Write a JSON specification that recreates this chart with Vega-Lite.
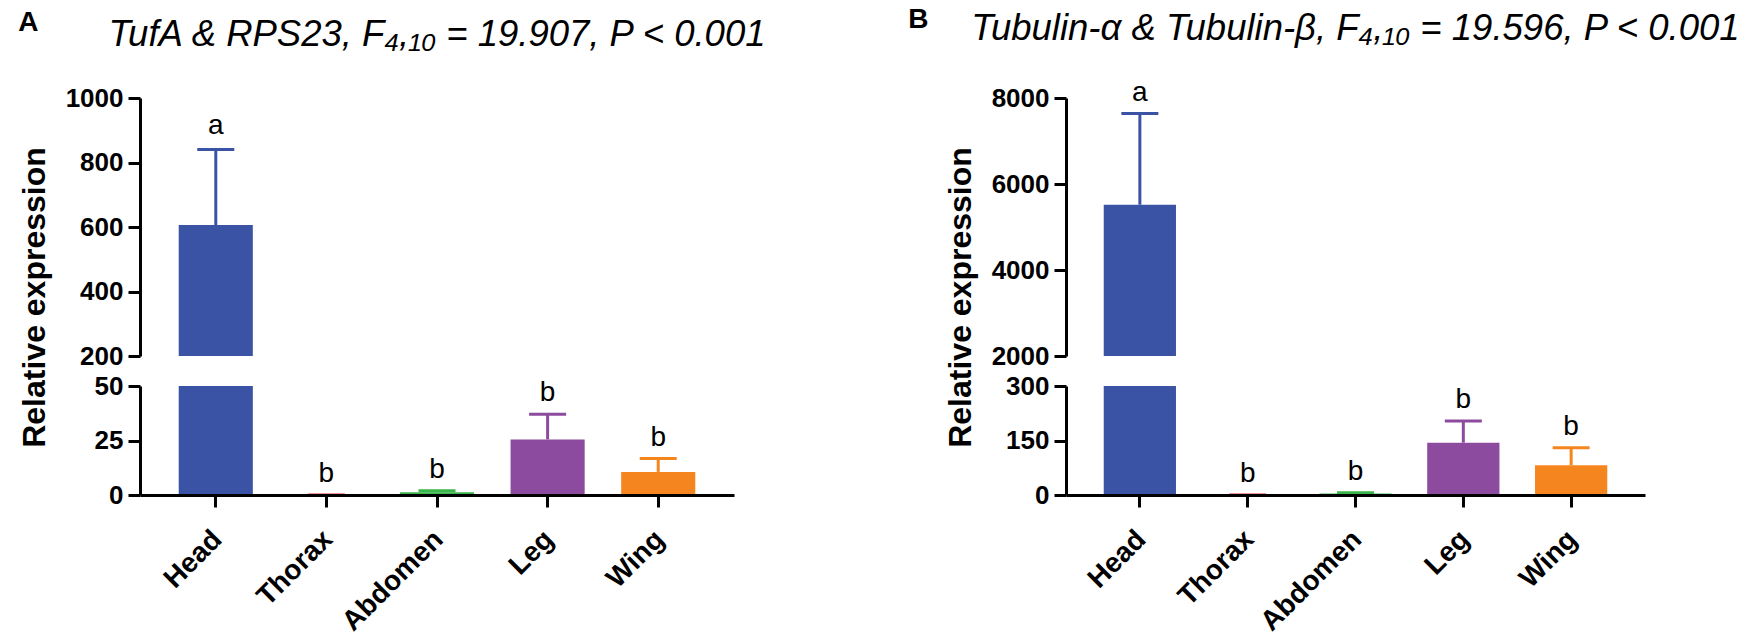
{
  "$schema": "https://vega.github.io/schema/vega-lite/v6.json",
  "padding": {"left": 18, "top": 5, "right": 5, "bottom": 5},
  "background": "white",
  "datasets": {
    "tufa": [
      {"part": "Head", "mean": 606, "upper": 840, "letter": "a"},
      {"part": "Thorax", "mean": 0.01, "upper": 0.01, "letter": "b"},
      {"part": "Abdomen", "mean": 1.3, "upper": 1.9, "letter": "b"},
      {"part": "Leg", "mean": 25.5, "upper": 37, "letter": "b"},
      {"part": "Wing", "mean": 10.6, "upper": 16.7, "letter": "b"}
    ],
    "tub": [
      {"part": "Head", "mean": 5518, "upper": 7640, "letter": "a"},
      {"part": "Thorax", "mean": 0.05, "upper": 0.05, "letter": "b"},
      {"part": "Abdomen", "mean": 4, "upper": 6, "letter": "b"},
      {"part": "Leg", "mean": 144, "upper": 204, "letter": "b"},
      {"part": "Wing", "mean": 82, "upper": 130, "letter": "b"}
    ]
  },
  "hconcat": [
    {
      "title": {"text": "A", "anchor": "start", "frame": "bounds", "fontSize": 28, "fontWeight": "bold", "dy": 24},
      "data": {"name": "tufa"},
      "spacing": 30,
      "bounds": "flush",
      "vconcat": [
        {
          "width": 594,
          "height": 258,
          "title": {"text": "TufA & RPS23, F₄,₁₀ = 19.907, P < 0.001", "fontSize": 36.5, "fontStyle": "italic", "fontWeight": "normal", "anchor": "middle", "offset": 32},
          "encoding": {
            "x": {"field": "part", "type": "nominal", "sort": ["Head", "Thorax", "Abdomen", "Leg", "Wing"], "scale": {"paddingInner": 0.33, "paddingOuter": 0.35}, "axis": null},
            "color": {"field": "part", "type": "nominal", "legend": null, "scale": {"domain": ["Head", "Thorax", "Abdomen", "Leg", "Wing"], "range": ["#3A53A4", "#E8262C", "#39B54A", "#8C4B9E", "#F5861F"]}}
          },
          "layer": [
            {
              "mark": {"type": "bar", "clip": true},
              "encoding": {
                "y": {"field": "mean", "type": "quantitative", "title": "Relative expression", "scale": {"domain": [200, 1000], "zero": false, "nice": false}, "axis": {"values": [200, 400, 600, 800, 1000], "format": "d", "titleY": 199, "titlePadding": 14, "labelPadding": 5}},
                "y2": {"datum": 200}
              }
            },
            {
              "mark": {"type": "rule", "clip": true, "strokeWidth": 3},
              "encoding": {
                "y": {"field": "mean", "type": "quantitative", "title": "Relative expression"},
                "y2": {"field": "upper"}
              }
            },
            {
              "mark": {"type": "tick", "clip": true, "thickness": 3, "size": 37, "opacity": 1},
              "encoding": {"y": {"field": "upper", "type": "quantitative", "title": "Relative expression"}}
            },
            {
              "transform": [{"filter": "datum.upper > 200"}],
              "mark": {"type": "text", "fontSize": 28, "baseline": "alphabetic", "dy": -16},
              "encoding": {
                "y": {"field": "upper", "type": "quantitative", "title": "Relative expression"},
                "text": {"field": "letter"},
                "color": {"value": "black"}
              }
            }
          ]
        },
        {
          "width": 594,
          "height": 109,
          "encoding": {
            "x": {"field": "part", "type": "nominal", "sort": ["Head", "Thorax", "Abdomen", "Leg", "Wing"], "scale": {"paddingInner": 0.33, "paddingOuter": 0.35}, "axis": {"title": null, "zindex": 1, "labelAngle": -45, "labelAlign": "right", "labelBaseline": "top", "labelPadding": 18, "labelOffset": -8, "labelFontSize": 28}},
            "color": {"field": "part", "type": "nominal", "legend": null, "scale": {"domain": ["Head", "Thorax", "Abdomen", "Leg", "Wing"], "range": ["#3A53A4", "#E8262C", "#39B54A", "#8C4B9E", "#F5861F"]}}
          },
          "layer": [
            {
              "mark": {"type": "bar", "clip": true},
              "encoding": {
                "y": {"field": "mean", "type": "quantitative", "title": null, "scale": {"domain": [0, 50], "nice": false}, "axis": {"values": [0, 25, 50], "labelPadding": 5}}
              }
            },
            {
              "mark": {"type": "rule", "clip": true, "strokeWidth": 3},
              "encoding": {
                "y": {"field": "mean", "type": "quantitative", "title": null},
                "y2": {"field": "upper"}
              }
            },
            {
              "mark": {"type": "tick", "clip": true, "thickness": 3, "size": 37, "opacity": 1},
              "encoding": {"y": {"field": "upper", "type": "quantitative", "title": null}}
            },
            {
              "transform": [{"filter": "datum.upper <= 50"}],
              "mark": {"type": "text", "fontSize": 28, "baseline": "alphabetic", "dy": -13},
              "encoding": {
                "y": {"field": "upper", "type": "quantitative", "title": null},
                "text": {"field": "letter"},
                "color": {"value": "black"}
              }
            }
          ]
        }
      ]
    },
    {
      "title": {"text": "B", "anchor": "start", "frame": "bounds", "fontSize": 28, "fontWeight": "bold", "dy": 27, "dx": -36},
      "data": {"name": "tub"},
      "spacing": 30,
      "bounds": "flush",
      "vconcat": [
        {
          "width": 579,
          "height": 258,
          "title": {"text": "Tubulin-α & Tubulin-β, F₄,₁₀ = 19.596, P < 0.001", "fontSize": 36.5, "fontStyle": "italic", "fontWeight": "normal", "anchor": "middle", "offset": 32},
          "encoding": {
            "x": {"field": "part", "type": "nominal", "sort": ["Head", "Thorax", "Abdomen", "Leg", "Wing"], "scale": {"paddingInner": 0.33, "paddingOuter": 0.35}, "axis": null},
            "color": {"field": "part", "type": "nominal", "legend": null, "scale": {"domain": ["Head", "Thorax", "Abdomen", "Leg", "Wing"], "range": ["#3A53A4", "#E8262C", "#39B54A", "#8C4B9E", "#F5861F"]}}
          },
          "layer": [
            {
              "mark": {"type": "bar", "clip": true},
              "encoding": {
                "y": {"field": "mean", "type": "quantitative", "title": "Relative expression", "scale": {"domain": [2000, 8000], "zero": false, "nice": false}, "axis": {"values": [2000, 4000, 6000, 8000], "format": "d", "titleY": 199, "titlePadding": 14, "labelPadding": 5}},
                "y2": {"datum": 2000}
              }
            },
            {
              "mark": {"type": "rule", "clip": true, "strokeWidth": 3},
              "encoding": {
                "y": {"field": "mean", "type": "quantitative", "title": "Relative expression"},
                "y2": {"field": "upper"}
              }
            },
            {
              "mark": {"type": "tick", "clip": true, "thickness": 3, "size": 37, "opacity": 1},
              "encoding": {"y": {"field": "upper", "type": "quantitative", "title": "Relative expression"}}
            },
            {
              "transform": [{"filter": "datum.upper > 2000"}],
              "mark": {"type": "text", "fontSize": 28, "baseline": "alphabetic", "dy": -12},
              "encoding": {
                "y": {"field": "upper", "type": "quantitative", "title": "Relative expression"},
                "text": {"field": "letter"},
                "color": {"value": "black"}
              }
            }
          ]
        },
        {
          "width": 579,
          "height": 109,
          "encoding": {
            "x": {"field": "part", "type": "nominal", "sort": ["Head", "Thorax", "Abdomen", "Leg", "Wing"], "scale": {"paddingInner": 0.33, "paddingOuter": 0.35}, "axis": {"title": null, "zindex": 1, "labelAngle": -45, "labelAlign": "right", "labelBaseline": "top", "labelPadding": 18, "labelOffset": -8, "labelFontSize": 28}},
            "color": {"field": "part", "type": "nominal", "legend": null, "scale": {"domain": ["Head", "Thorax", "Abdomen", "Leg", "Wing"], "range": ["#3A53A4", "#E8262C", "#39B54A", "#8C4B9E", "#F5861F"]}}
          },
          "layer": [
            {
              "mark": {"type": "bar", "clip": true},
              "encoding": {
                "y": {"field": "mean", "type": "quantitative", "title": null, "scale": {"domain": [0, 300], "nice": false}, "axis": {"values": [0, 150, 300], "labelPadding": 5}}
              }
            },
            {
              "mark": {"type": "rule", "clip": true, "strokeWidth": 3},
              "encoding": {
                "y": {"field": "mean", "type": "quantitative", "title": null},
                "y2": {"field": "upper"}
              }
            },
            {
              "mark": {"type": "tick", "clip": true, "thickness": 3, "size": 37, "opacity": 1},
              "encoding": {"y": {"field": "upper", "type": "quantitative", "title": null}}
            },
            {
              "transform": [{"filter": "datum.upper <= 300"}],
              "mark": {"type": "text", "fontSize": 28, "baseline": "alphabetic", "dy": -13},
              "encoding": {
                "y": {"field": "upper", "type": "quantitative", "title": null},
                "text": {"field": "letter"},
                "color": {"value": "black"}
              }
            }
          ]
        }
      ]
    }
  ],
  "spacing": 141,
  "config": {
    "view": {"stroke": null},
    "font": "Liberation Sans",
    "title": {"color": "black", "font": "Liberation Sans"},
    "axis": {
      "domainColor": "black",
      "domainWidth": 3,
      "tickColor": "black",
      "tickWidth": 3,
      "tickSize": 12,
      "grid": false,
      "labelFont": "Liberation Sans",
      "labelFontWeight": "bold",
      "labelFontSize": 26,
      "labelColor": "black",
      "titleFont": "Liberation Sans",
      "titleFontWeight": "bold",
      "titleFontSize": 32,
      "titleColor": "black"
    }
  }
}
